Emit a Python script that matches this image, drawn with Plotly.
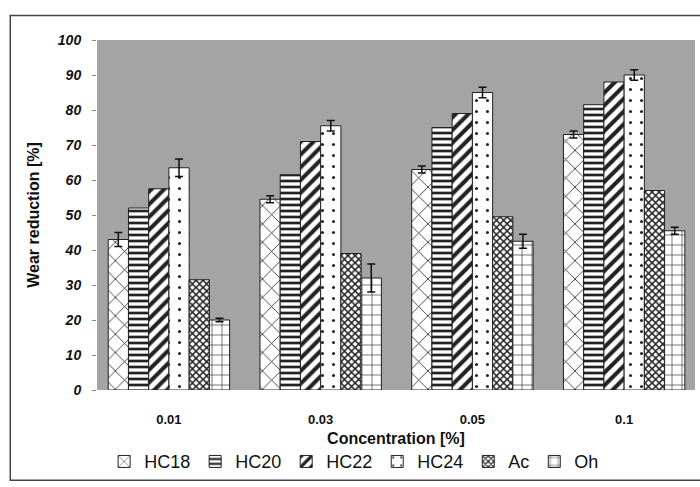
import plotly.graph_objects as go

categories = ["0.01", "0.03", "0.05", "0.1"]
series_names = ["HC18", "HC20", "HC22", "HC24", "Ac", "Oh"]
hc18 = [43, 54.5, 63, 73]
hc20 = [52, 61.5, 75, 81.5]
hc22 = [57.5, 71, 79, 88]
hc24 = [63.5, 75.5, 85, 90]
ac = [31.5, 39, 49.5, 57]
oh = [20, 32, 42.5, 45.5]
err_hc18 = [2, 1, 1, 1]
err_hc24 = [2.5, 1.5, 1.5, 1.5]
err_oh = [0.5, 4, 2, 1]
y_ticks = [0, 10, 20, 30, 40, 50, 60, 70, 80, 90, 100]

values = [hc18, hc20, hc22, hc24, ac, oh]
errors = [err_hc18, None, None, err_hc24, None, err_oh]
patterns = [
    dict(shape="x", size=13, solidity=0.12),
    dict(shape="-", size=6, solidity=0.45),
    dict(shape="/", size=9, solidity=0.45),
    dict(shape=".", size=11, solidity=0.06),
    dict(shape="x", size=5, solidity=0.5),
    dict(shape="+", size=10, solidity=0.12),
]

fig = go.Figure()
for name, vals, err, pat in zip(series_names, values, errors, patterns):
    fig.add_trace(go.Bar(
        name=name, x=categories, y=vals,
        marker=dict(color="white",
                    line=dict(color="#222", width=1),
                    pattern=dict(fgcolor="#222", bgcolor="white", fillmode="replace", **pat)),
        error_y=dict(type="data", array=err, visible=err is not None,
                     color="#111", thickness=1.5, width=4),
    ))

fig.update_layout(
    width=700, height=487,
    margin=dict(l=97, r=5, t=40, b=97),
    paper_bgcolor="white",
    plot_bgcolor="#a4a4a4",
    barmode="group", bargap=0.2, bargroupgap=0,
    font=dict(family="Arial, Liberation Sans, sans-serif", color="#111"),
    showlegend=True,
    legend=dict(orientation="h", x=0.43, xanchor="center", y=-0.205, yanchor="middle",
                font=dict(size=18, color="#111"), itemwidth=30, tracegroupgap=0,
                bgcolor="rgba(0,0,0,0)"),
    xaxis=dict(type="category", range=[-0.474, 3.467], showgrid=False, zeroline=False,
               showline=False, ticks="",
               tickfont=dict(size=13, weight="bold"), ticklabelstandoff=20,
               title=dict(text="Concentration [%]", font=dict(size=16, weight="bold"), standoff=6)),
    yaxis=dict(range=[0, 100], tickvals=y_ticks, showgrid=False, zeroline=False,
               showline=False, ticks="outside", ticklen=4, tickcolor="#888",
               tickfont=dict(size=14, weight="bold", style="italic"), ticklabelstandoff=8,
               title=dict(text="Wear reduction [%]", font=dict(size=16, weight="bold"), standoff=14)),
    shapes=[dict(type="rect", xref="paper", yref="paper", x0=-0.145, x1=1.05, y0=-0.258, y1=1.07,
                 line=dict(color="#444", width=1.5), fillcolor="rgba(0,0,0,0)", layer="below")],
)

fig.write_html("out.html")
